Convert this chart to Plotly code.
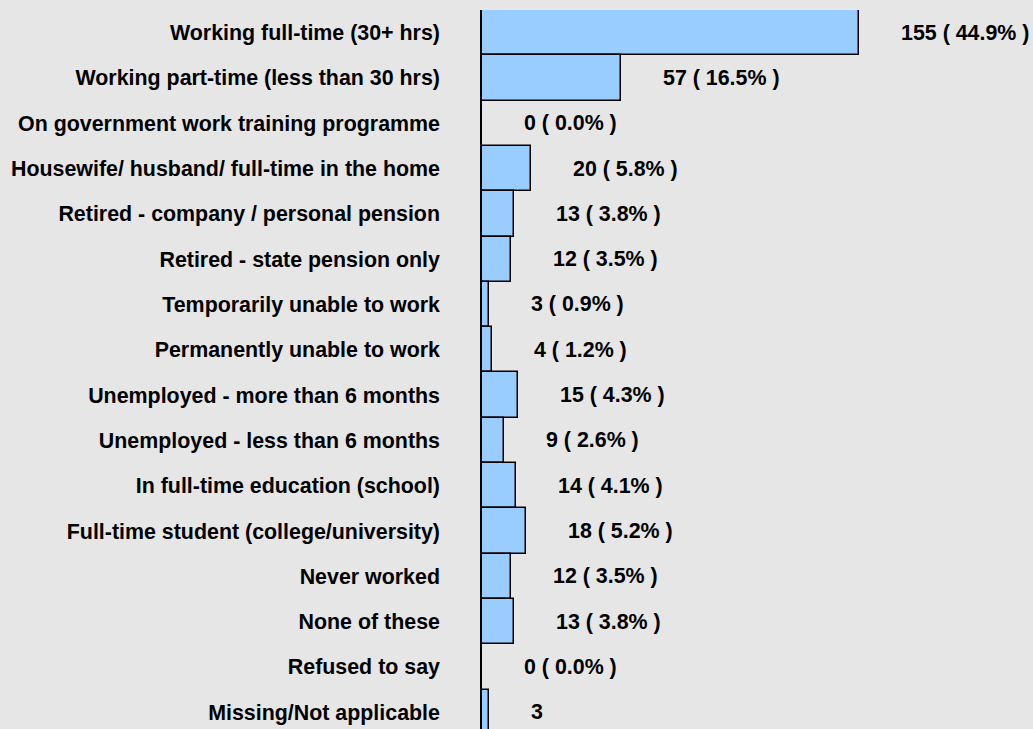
import plotly.graph_objects as go

# Employment status of respondents
categories = [
    "Working full-time (30+ hrs)",
    "Working part-time (less than 30 hrs)",
    "On government work training programme",
    "Housewife/ husband/ full-time in the home",
    "Retired - company / personal pension",
    "Retired - state pension only",
    "Temporarily unable to work",
    "Permanently unable to work",
    "Unemployed - more than 6 months",
    "Unemployed - less than 6 months",
    "In full-time education (school)",
    "Full-time student (college/university)",
    "Never worked",
    "None of these",
    "Refused to say",
    "Missing/Not applicable",
]
counts = [155, 57, 0, 20, 13, 12, 3, 4, 15, 9, 14, 18, 12, 13, 0, 3]
percents = [44.9, 16.5, 0.0, 5.8, 3.8, 3.5, 0.9, 1.2, 4.3, 2.6, 4.1, 5.2, 3.5, 3.8, 0.0, None]

BG = "#e6e6e6"
FONT = dict(family="Liberation Sans, Arial, sans-serif", size=21.4, color="#000000")

positions = list(range(len(categories)))

fig = go.Figure(
    go.Bar(
        x=counts,
        y=positions,
        orientation="h",
        marker=dict(color="#99ccff", line=dict(color="#000000", width=1.5)),
        hoverinfo="x+y",
    )
)

# value labels sit a fixed distance to the right of each bar end
for pos, n, p in zip(positions, counts, percents):
    label = f"{n}" if p is None else f"{n} ( {p:.1f}% )"
    fig.add_annotation(
        x=n, y=pos, text=f"<b>{label}</b>", showarrow=False,
        xanchor="left", yanchor="middle", xshift=40, font=FONT,
    )

fig.update_layout(
    width=1033, height=729,
    margin=dict(l=482, r=0, t=10, b=0),
    paper_bgcolor=BG, plot_bgcolor=BG,
    bargap=0,
    showlegend=False,
    font=FONT,
    xaxis=dict(range=[0, 226.5], visible=False, fixedrange=True),
    yaxis=dict(
        range=[15.37, -0.5],
        tickvals=positions,
        ticktext=[f"<b>{c}</b>" for c in categories],
        showgrid=False, zeroline=False,
        showline=True, linecolor="#000000", linewidth=1.5,
        ticks="", ticklabelstandoff=36,
        tickfont=FONT,
        fixedrange=True,
    ),
)

fig.write_html("out.html")
